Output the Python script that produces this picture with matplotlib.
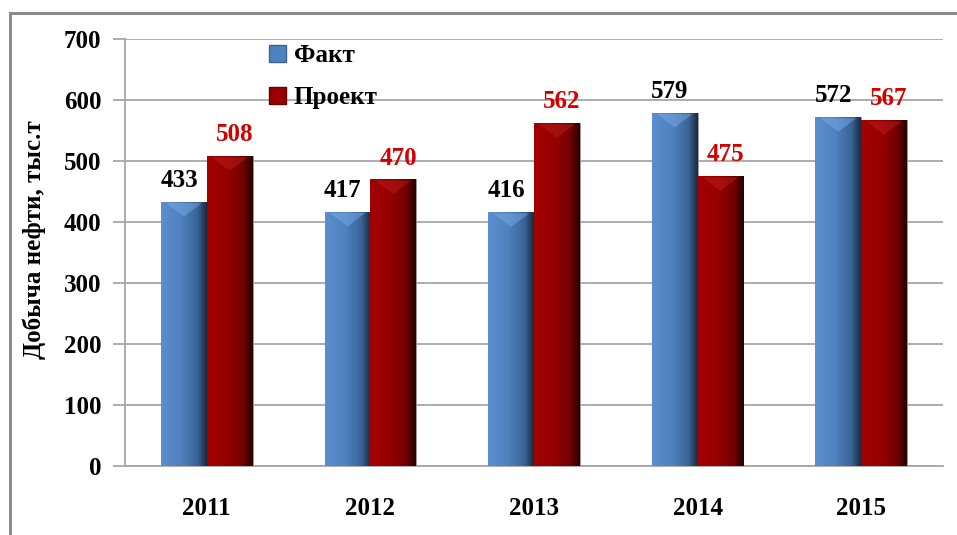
import matplotlib
matplotlib.use('Agg')
import matplotlib.pyplot as plt
from matplotlib.colors import LinearSegmentedColormap
from matplotlib.lines import Line2D
from matplotlib.patches import Patch
import numpy as np

years = ['2011', '2012', '2013', '2014', '2015']
fact = [433, 417, 416, 579, 572]
project = [508, 470, 562, 475, 567]
yticks = [0, 100, 200, 300, 400, 500, 600, 700]

plt.rcParams['font.family'] = ['Liberation Serif', 'DejaVu Serif']
plt.rcParams['font.weight'] = 'bold'

blue_cm = LinearSegmentedColormap.from_list(
    'blue', [(0, '#5b8ed2'), (0.45, '#4f81bd'), (0.8, '#3a6496'), (1, '#1a2a40')])
red_cm = LinearSegmentedColormap.from_list(
    'red', [(0, '#a30000'), (0.45, '#960000'), (0.8, '#700000'), (1, '#250000')])

fig = plt.figure(figsize=(9.57, 5.35), dpi=100)
ax = fig.add_axes([125 / 957, 1 - 466 / 535, 818 / 957, 427 / 535])

x = np.arange(len(years))
w = 0.28
bars_f = ax.bar(x - w / 2, fact, w, color='#4f81bd', edgecolor='#9a9a9a', linewidth=0.6, zorder=3)
bars_p = ax.bar(x + w / 2, project, w, color='#990000', edgecolor='#9a9a9a', linewidth=0.6, zorder=3)

grad = np.linspace(0, 1, 64).reshape(1, -1)
for bars, cm, cap in ((bars_f, blue_cm, '#7fb0ee'), (bars_p, red_cm, '#c02020')):
    for b in bars:
        x0, h, bw = b.get_x(), b.get_height(), b.get_width()
        im = ax.imshow(grad, extent=[x0, x0 + bw, 0, h], aspect='auto', cmap=cm,
                       zorder=3.5, interpolation='bicubic')
        im.set_clip_path(b)
        # bevelled top highlight
        ax.fill([x0 + 0.03, x0 + bw - 0.03, x0 + bw * 0.5], [h - 2, h - 2, h - 24],
                color=cap, alpha=0.45, zorder=3.6, linewidth=0)

for xi, v in zip(x, fact):
    ax.text(xi - w / 2 - 0.03, v + 16, str(v), ha='center', va='bottom',
            fontsize=18, fontweight='bold', color='black', zorder=5)
for xi, v in zip(x, project):
    ax.text(xi + w / 2 + 0.03, v + 16, str(v), ha='center', va='bottom',
            fontsize=18, fontweight='bold', color='#d40000', zorder=5)

ax.set_xlim(-0.5, 4.5)
ax.set_ylim(0, 700)
ax.set_yticks(yticks)
ax.set_xticks(x)
ax.set_xticklabels(years, fontsize=18, fontweight='bold')
ax.tick_params(axis='x', length=0, pad=22)
ax.tick_params(axis='y', length=9, width=1.3, color='#a6a6a6', pad=8, labelsize=18)
for lab in ax.get_yticklabels():
    lab.set_fontweight('bold')

ax.grid(axis='y', color='#a6a6a6', linewidth=1.3, zorder=0)
ax.set_axisbelow(True)
for s in ['top', 'right']:
    ax.spines[s].set_visible(False)
ax.spines['left'].set_color('#a6a6a6')
ax.spines['left'].set_linewidth(1.3)
ax.spines['bottom'].set_color('#a6a6a6')
ax.spines['bottom'].set_linewidth(1.3)

ax.set_ylabel('Добыча нефти, тыс.т', fontsize=18, fontweight='bold')
ax.yaxis.set_label_coords(-0.096, 0.53)

handles = [Patch(facecolor='#4f81bd', edgecolor='#3a6496'),
           Patch(facecolor='#990000', edgecolor='#600000')]
ax.legend(handles, ['Факт', 'Проект'], loc='upper left', bbox_to_anchor=(0.148, 1.04),
          frameon=False, prop={'size': 18, 'weight': 'bold'}, labelspacing=0.75,
          handlelength=0.7, handleheight=0.7, handletextpad=0.3)

fig.add_artist(Line2D([10 / 957, 10 / 957], [0, 1 - 13 / 535], color='#8c8c8c', linewidth=2.2))
fig.add_artist(Line2D([10 / 957, 1], [1 - 13 / 535, 1 - 13 / 535], color='#8c8c8c', linewidth=2.2))

fig.savefig('out.png', dpi=100)
